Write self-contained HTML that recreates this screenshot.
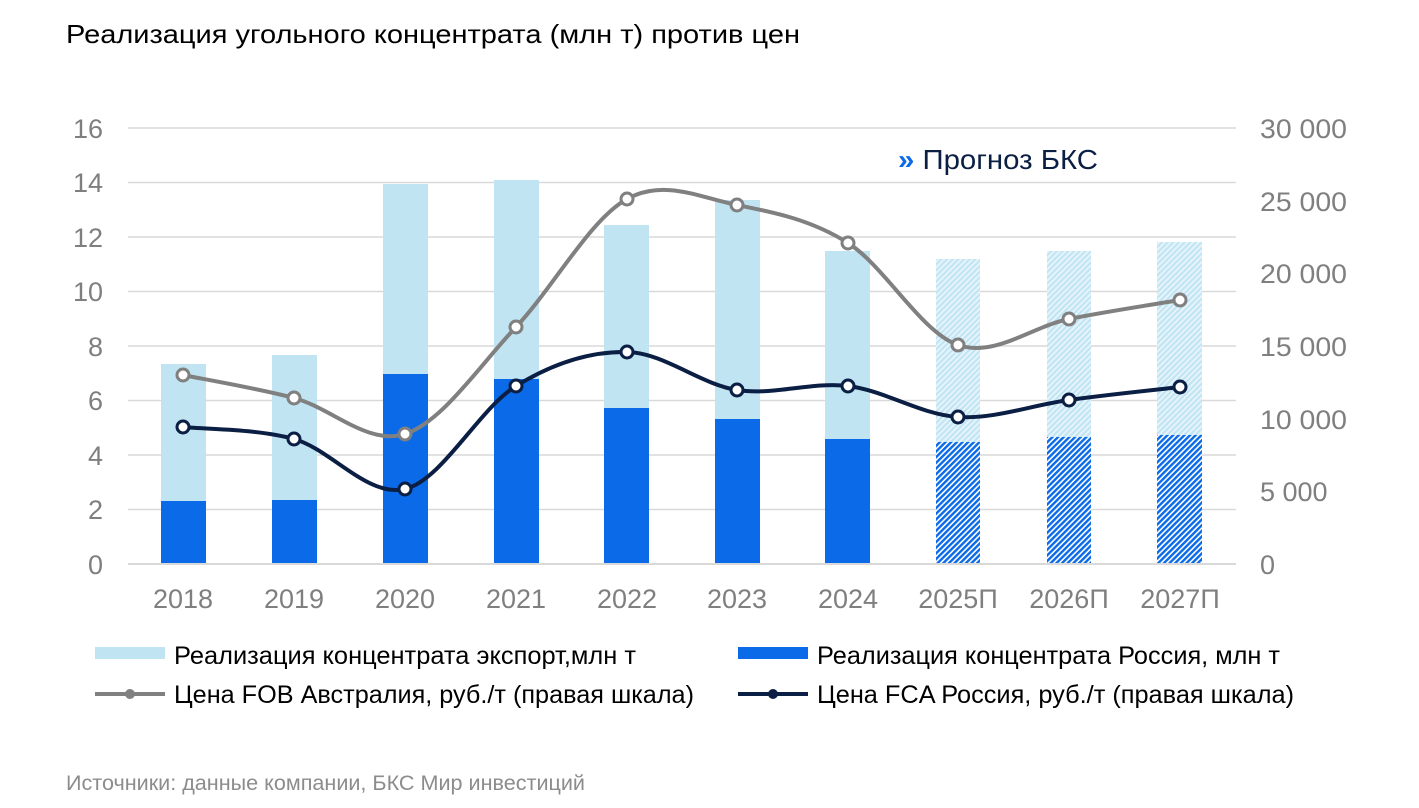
<!DOCTYPE html>
<html><head><meta charset="utf-8"><style>
body{margin:0;background:#fff;}
svg{display:block;font-family:"Liberation Sans",Arial,sans-serif;}
</style></head><body>
<svg width="1419" height="808" viewBox="0 0 1419 808" xmlns="http://www.w3.org/2000/svg">
<defs>
<pattern id="hl" width="4" height="4" patternUnits="userSpaceOnUse" patternTransform="rotate(45)">
<rect width="4" height="4" fill="#e6f4fa"/><rect width="2" height="4" fill="#bfe4f3"/></pattern>
<pattern id="hd" width="4" height="4" patternUnits="userSpaceOnUse" patternTransform="rotate(45)">
<rect width="4" height="4" fill="#ffffff"/><rect width="2.4" height="4" fill="#0a6ae8"/></pattern>
</defs>
<text x="66" y="43" font-size="26" fill="#000" textLength="734" lengthAdjust="spacingAndGlyphs">Реализация угольного концентрата (млн т) против цен</text>
<g stroke="#d9d9d9" stroke-width="1.5">
<line x1="128" x2="1236" y1="128" y2="128"/><line x1="128" x2="1236" y1="182.5" y2="182.5"/>
<line x1="128" x2="1236" y1="237" y2="237"/><line x1="128" x2="1236" y1="291.5" y2="291.5"/>
<line x1="128" x2="1236" y1="346" y2="346"/><line x1="128" x2="1236" y1="400.5" y2="400.5"/>
<line x1="128" x2="1236" y1="455" y2="455"/><line x1="128" x2="1236" y1="509.5" y2="509.5"/>
</g>
<g font-size="27" fill="#7f7f7f" text-anchor="end">
<text x="103" y="138">16</text><text x="103" y="192">14</text><text x="103" y="247">12</text>
<text x="103" y="301">10</text><text x="103" y="356">8</text><text x="103" y="410">6</text>
<text x="103" y="465">4</text><text x="103" y="519">2</text><text x="103" y="574">0</text>
</g>
<g font-size="27" fill="#7f7f7f">
<text x="1260" y="138" textLength="87" lengthAdjust="spacingAndGlyphs">30 000</text>
<text x="1260" y="211" textLength="87" lengthAdjust="spacingAndGlyphs">25 000</text>
<text x="1260" y="283" textLength="87" lengthAdjust="spacingAndGlyphs">20 000</text>
<text x="1260" y="356" textLength="87" lengthAdjust="spacingAndGlyphs">15 000</text>
<text x="1260" y="429" textLength="87" lengthAdjust="spacingAndGlyphs">10 000</text>
<text x="1260" y="501">5 000</text>
<text x="1260" y="574">0</text>
</g>
<g fill="#c1e4f3">
<rect x="161" y="364" width="45" height="200"/><rect x="272" y="355" width="45" height="209"/>
<rect x="383" y="184" width="45" height="380"/><rect x="494" y="180" width="45" height="384"/>
<rect x="604" y="225" width="45" height="339"/><rect x="715" y="200" width="45" height="364"/>
<rect x="825" y="251" width="45" height="313"/>
</g>
<g fill="#0a6ae8">
<rect x="161" y="501" width="45" height="63"/><rect x="272" y="500" width="45" height="64"/>
<rect x="383" y="374" width="45" height="190"/><rect x="494" y="379" width="45" height="185"/>
<rect x="604" y="408" width="45" height="156"/><rect x="715" y="419" width="45" height="145"/>
<rect x="825" y="439" width="45" height="125"/>
</g>
<rect x="936" y="259" width="44" height="183" fill="url(#hl)"/>
<rect x="1047" y="251" width="44" height="186" fill="url(#hl)"/>
<rect x="1157" y="242" width="45" height="193" fill="url(#hl)"/>
<rect x="936" y="442" width="44" height="122" fill="url(#hd)"/>
<rect x="1047" y="437" width="44" height="127" fill="url(#hd)"/>
<rect x="1157" y="435" width="45" height="129" fill="url(#hd)"/>
<line x1="128" x2="1236" y1="564" y2="564" stroke="#d9d9d9" stroke-width="2"/>
<g font-size="27" fill="#7f7f7f" text-anchor="middle">
<text x="183" y="608">2018</text><text x="294" y="608">2019</text><text x="405" y="608">2020</text>
<text x="516" y="608">2021</text><text x="627" y="608">2022</text><text x="737" y="608">2023</text>
<text x="848" y="608">2024</text><text x="958" y="608">2025П</text><text x="1069" y="608">2026П</text>
<text x="1180" y="608">2027П</text>
</g>
<path d="M183,375 C201.5,378.8 257,388.2 294,398 C331,407.8 368,445.8 405,434 C442,422.2 479,366.2 516,327 C553,287.8 590.2,219.3 627,199 C663.8,178.7 700.2,197.7 737,205 C773.8,212.3 811.2,219.7 848,243 C884.8,266.3 921.2,332.3 958,345 C994.8,357.7 1032,326.5 1069,319 C1106,311.5 1161.5,303.2 1180,300" fill="none" stroke="#808080" stroke-width="4"/>
<path d="M183,427 C201.5,429 257,428.7 294,439 C331,449.3 368,497.8 405,489 C442,480.2 479,408.8 516,386 C553,363.2 590.2,351.3 627,352 C663.8,352.7 700.2,384.3 737,390 C773.8,395.7 811.2,381.5 848,386 C884.8,390.5 921.2,414.7 958,417 C994.8,419.3 1032,405 1069,400 C1106,394.8 1161.5,389.2 1180,387" fill="none" stroke="#0b1f44" stroke-width="4"/>
<g fill="#fff" stroke="#808080" stroke-width="3">
<circle cx="183" cy="375" r="6"/><circle cx="294" cy="398" r="6"/><circle cx="405" cy="434" r="6"/>
<circle cx="516" cy="327" r="6"/><circle cx="627" cy="199" r="6"/><circle cx="737" cy="205" r="6"/>
<circle cx="848" cy="243" r="6"/><circle cx="958" cy="345" r="6"/><circle cx="1069" cy="319" r="6"/>
<circle cx="1180" cy="300" r="6"/>
</g>
<g fill="#fff" stroke="#0b1f44" stroke-width="3">
<circle cx="183" cy="427" r="6"/><circle cx="294" cy="439" r="6"/><circle cx="405" cy="489" r="6"/>
<circle cx="516" cy="386" r="6"/><circle cx="627" cy="352" r="6"/><circle cx="737" cy="390" r="6"/>
<circle cx="848" cy="386" r="6"/><circle cx="958" cy="417" r="6"/><circle cx="1069" cy="400" r="6"/>
<circle cx="1180" cy="387" r="6"/>
</g>
<text x="898" y="169" font-size="28" fill="#0b1f44" textLength="200" lengthAdjust="spacingAndGlyphs"><tspan fill="#0a6ae8" font-weight="bold">»</tspan> Прогноз БКС</text>
<rect x="95" y="647" width="70" height="12" fill="#c1e4f3"/>
<text x="174" y="664" font-size="25" fill="#000" textLength="462" lengthAdjust="spacingAndGlyphs">Реализация концентрата экспорт,млн т</text>
<rect x="738" y="647" width="70" height="12" fill="#0a6ae8"/>
<text x="817" y="664" font-size="25" fill="#000" textLength="463" lengthAdjust="spacingAndGlyphs">Реализация концентрата Россия, млн т</text>
<line x1="95" x2="165" y1="694" y2="694" stroke="#808080" stroke-width="4"/>
<circle cx="130" cy="694" r="5" fill="#808080"/>
<text x="174" y="703" font-size="25" fill="#000" textLength="520" lengthAdjust="spacingAndGlyphs">Цена FOB Австралия, руб./т (правая шкала)</text>
<line x1="738" x2="808" y1="694" y2="694" stroke="#0b1f44" stroke-width="4"/>
<circle cx="773" cy="694" r="5" fill="#0b1f44"/>
<text x="817" y="703" font-size="25" fill="#000" textLength="477" lengthAdjust="spacingAndGlyphs">Цена FCA Россия, руб./т (правая шкала)</text>
<text x="66" y="790" font-size="21" fill="#8c8c8c" textLength="519" lengthAdjust="spacingAndGlyphs">Источники: данные компании, БКС Мир инвестиций</text>
</svg>
</body></html>
